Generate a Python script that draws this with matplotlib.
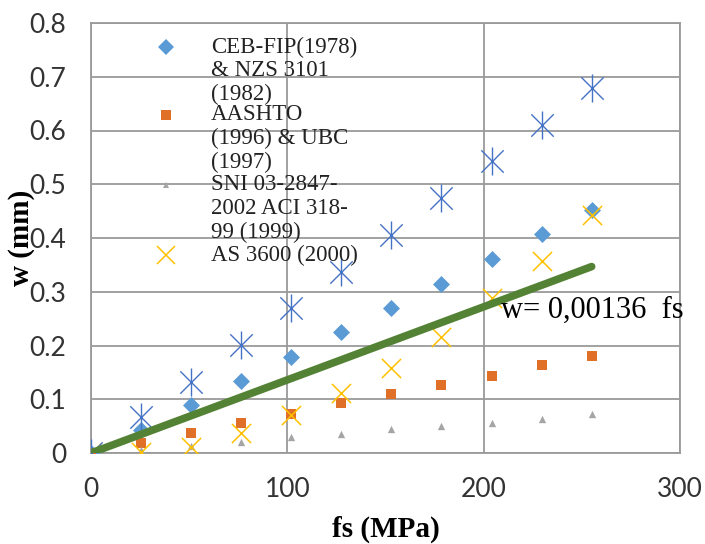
import matplotlib
matplotlib.use("Agg")
import matplotlib.pyplot as plt
import numpy as np

# ---- data ----
fs = [0, 25.5, 51, 76.5, 102, 127.5, 153, 178.5, 204, 229.5, 255]
ceb_fip = [0, 0.043, 0.089, 0.134, 0.179, 0.225, 0.270, 0.314, 0.361, 0.407, 0.453]
aashto = [0, 0.018, 0.037, 0.056, 0.072, 0.093, 0.109, 0.126, 0.143, 0.164, 0.181]
sni = [0, 0.006, 0.013, 0.021, 0.029, 0.036, 0.044, 0.050, 0.056, 0.063, 0.073]
as3600 = [0, 0.001, 0.012, 0.037, 0.071, 0.112, 0.158, 0.216, 0.288, 0.358, 0.443]
measured = [0, 0.067, 0.133, 0.201, 0.270, 0.337, 0.406, 0.475, 0.543, 0.611, 0.679]
fit_coef = 0.00136
fit_x = [0, 255]

legend_labels = ["CEB-FIP(1978)\n& NZS 3101\n(1982)",
                 "AASHTO\n(1996) & UBC\n(1997)",
                 "SNI 03-2847-\n2002 ACI 318-\n99 (1999)",
                 "AS 3600 (2000)"]
x_ticks = [0, 100, 200, 300]
y_ticks = [0, 0.1, 0.2, 0.3, 0.4, 0.5, 0.6, 0.7, 0.8]
y_ticklabels = ["0", "0.1", "0.2", "0.3", "0.4", "0.5", "0.6", "0.7", "0.8"]
fit_label = "w= 0,00136  fs"

c_blue = "#5B9BD5"
c_orange = "#E07028"
c_gray = "#A5A5A5"
c_yellow = "#FFC000"
c_star = "#4472C4"
c_green = "#548235"

W, H = 705, 544
fig = plt.figure(figsize=(W / 100, H / 100), dpi=100)
ax = fig.add_axes([91 / W, (H - 453) / H, (680 - 91) / W, (453 - 23) / H])

ax.scatter(fs, ceb_fip, marker="D", s=75, color=c_blue, zorder=3, linewidths=0)
ax.scatter(fs, aashto, marker="s", s=60, color=c_orange, zorder=3, linewidths=0)
ax.scatter(fs, sni, marker="^", s=28, color=c_gray, zorder=3, linewidths=0)
ax.scatter(fs, as3600, marker="x", s=190, color=c_yellow, zorder=4, linewidths=1.1)
ax.scatter(fs, measured, marker="x", s=260, color=c_star, zorder=4, linewidths=1.0)
ax.scatter(fs, measured, marker="|", s=420, color=c_star, zorder=4, linewidths=1.0)

fx = np.array(fit_x, dtype=float)
ax.plot(fx, fit_coef * fx, color=c_green, lw=5.5, solid_capstyle="round", zorder=5)

ax.set_xlim(0, 300)
ax.set_ylim(0, 0.8)
ax.set_xticks(x_ticks)
ax.set_yticks(y_ticks)
ax.set_yticklabels(y_ticklabels)
ax.grid(True, color="#9a9a9a", lw=1.3, zorder=0)
ax.set_axisbelow(True)
for sp in ax.spines.values():
    sp.set_color("#9a9a9a")
    sp.set_linewidth(1.3)
ax.tick_params(length=0, labelsize=19, colors="#333333")
for lab in ax.get_xticklabels() + ax.get_yticklabels():
    lab.set_fontfamily("Lato")
ax.tick_params(axis="x", pad=17)
ax.tick_params(axis="y", pad=18)

ax.set_xlabel("fs (MPa)", fontfamily="Liberation Serif", fontweight="bold", fontsize=21, labelpad=10)
ax.set_ylabel("w (mm)", fontfamily="Liberation Serif", fontweight="bold", fontsize=21)
ax.yaxis.set_label_coords(-0.095, 0.5)

ax.text(209, 0.266, fit_label, fontfamily="Liberation Serif",
        fontsize=22, va="center", ha="left", zorder=6)

# ---- manual legend ----
leg_markers = [("D", c_blue, 60), ("s", c_orange, 50), ("^", c_gray, 25), ("x", c_yellow, 150)]
first_line_y = [47, 115, 185, 255]
line_step = 23.5
for (m, c, s), lab, y0 in zip(leg_markers, legend_labels, first_line_y):
    fig.add_artist(plt.Line2D([166 / W], [1 - y0 / H], marker=m, color=c, markersize=np.sqrt(s),
                              linestyle="none", markeredgewidth=1.1 if m == "x" else 0,
                              transform=fig.transFigure))
    for i, line in enumerate(lab.split("\n")):
        fig.text(211 / W, 1 - (y0 + i * line_step) / H, line, fontfamily="Liberation Serif",
                 fontsize=16.5, va="center", ha="left", color="#222222")

fig.savefig("out.png", dpi=100)
